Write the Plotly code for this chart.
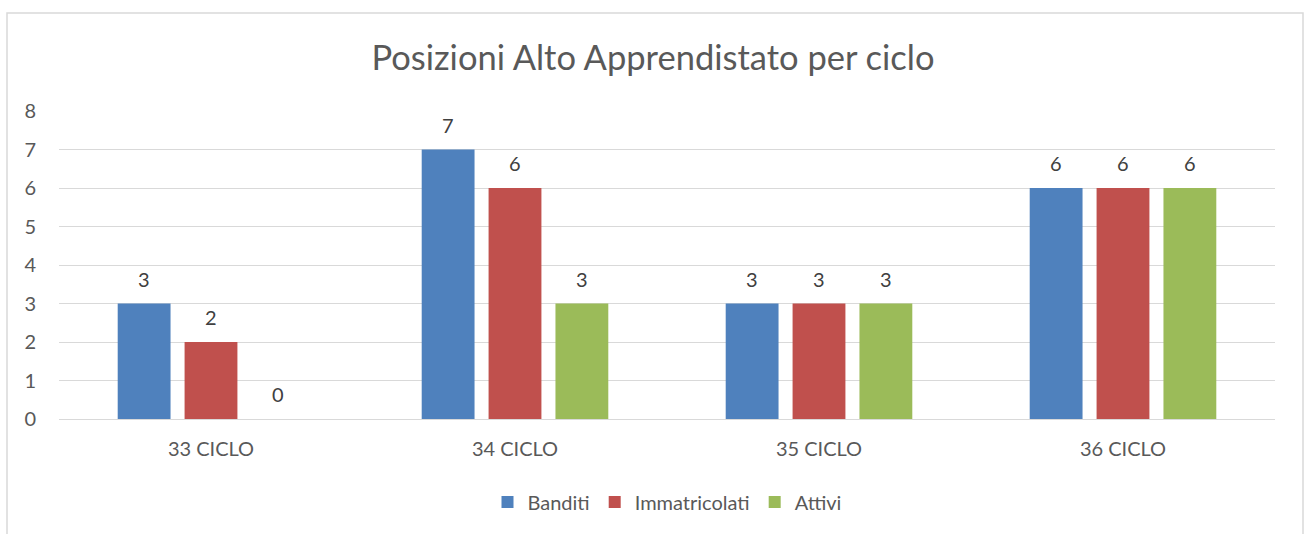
import plotly.graph_objects as go

cicli = ["33 CICLO", "34 CICLO", "35 CICLO", "36 CICLO"]
banditi = [3, 7, 3, 6]
immatricolati = [2, 6, 3, 6]
attivi = [0, 3, 3, 6]

series = [
    ("Banditi", banditi, "#4F81BD"),
    ("Immatricolati", immatricolati, "#C0504D"),
    ("Attivi", attivi, "#9BBB59"),
]

FONT = "Lato"
W, H = 1306, 534
ML, MR, MT, MB = 59, 31, 111, 115
BARGAP = 0.34
BARGROUPGAP = 0.21

fig = go.Figure()
for name, vals, color in series:
    fig.add_trace(go.Bar(
        name=name,
        x=cicli,
        y=vals,
        marker=dict(color=color, line=dict(width=0)),
        cliponaxis=False,
    ))

# value labels above each bar, shifted sideways by one bar slot per series
plot_w = W - ML - MR
slot_px = plot_w / len(cicli) * (1 - BARGAP) / len(series)
annotations = []
for k, (name, vals, color) in enumerate(series):
    for cat, v in zip(cicli, vals):
        annotations.append(dict(
            x=cat, y=v, xref="x", yref="y",
            text=str(v), showarrow=False,
            xshift=(k - 1) * slot_px, yshift=25,
            yanchor="middle",
            font=dict(family=FONT, size=20, color="#404040"),
        ))

plot_h = H - MT - MB
fig.update_layout(
    width=W,
    height=H,
    margin=dict(l=ML, r=MR, t=MT, b=MB),
    paper_bgcolor="white",
    plot_bgcolor="white",
    barmode="group",
    bargap=BARGAP,
    bargroupgap=BARGROUPGAP,
    font=dict(family=FONT, size=20, color="#595959"),
    title=dict(
        text="Posizioni Alto Apprendistato per ciclo",
        x=0.5, xanchor="center",
        y=1 - 58 / H, yanchor="middle",
        font=dict(family=FONT, size=34.5, color="#595959"),
    ),
    legend=dict(
        orientation="h",
        x=0.5, xanchor="center",
        y=-83 / plot_h, yanchor="middle",
        font=dict(family=FONT, size=20, color="#595959"),
        itemwidth=30,
        traceorder="normal",
    ),
    xaxis=dict(
        showgrid=False,
        showline=True, linecolor="#D9D9D9", linewidth=1,
        ticks="", ticklabelstandoff=12,
        tickfont=dict(family=FONT, size=20, color="#595959"),
    ),
    yaxis=dict(
        range=[0, 8],
        dtick=1,
        showgrid=True, gridcolor="#D9D9D9", gridwidth=1,
        zeroline=False, showline=False,
        ticks="", ticklabelstandoff=22,
        tickfont=dict(family=FONT, size=20, color="#595959"),
    ),
    annotations=annotations,
    shapes=[dict(
        type="rect", xref="paper", yref="paper",
        x0=(7 - ML) / plot_w, x1=(1303 - ML) / plot_w,
        y0=-0.5, y1=(H - MB - 13) / plot_h,
        line=dict(color="#D9D9D9", width=1.5),
        fillcolor="rgba(0,0,0,0)", layer="below",
    )],
)

fig.write_html("out.html")
